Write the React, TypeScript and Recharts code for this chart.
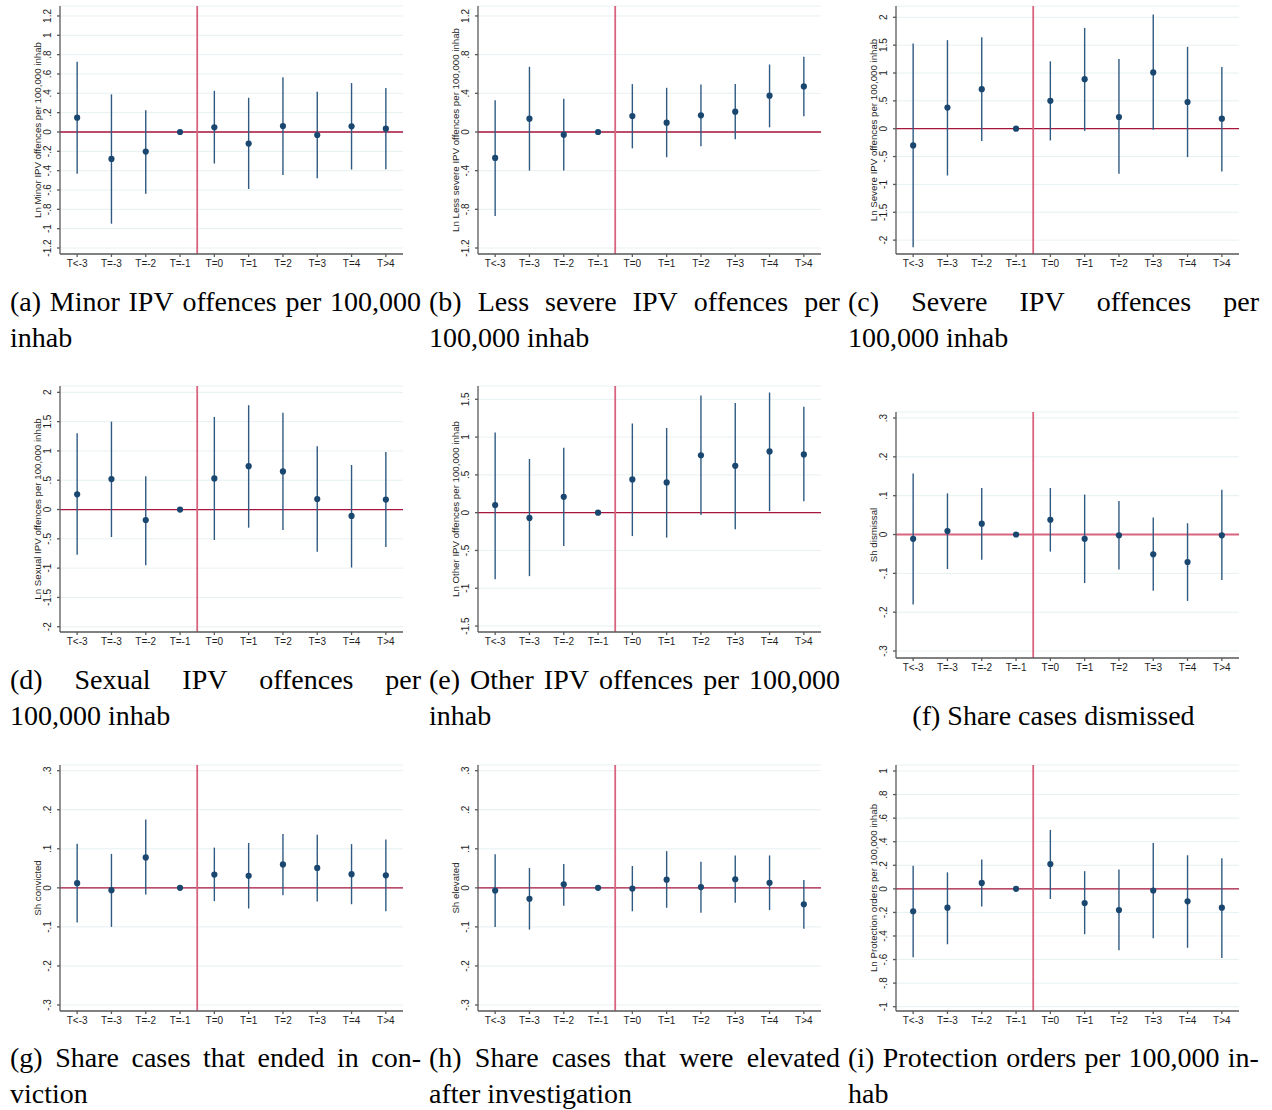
import React from "react";
import {
  CartesianGrid,
  ErrorBar,
  ReferenceLine,
  Scatter,
  ScatterChart,
  XAxis,
  YAxis,
} from "recharts";

const categories = ["T<-3", "T=-3", "T=-2", "T=-1", "T=0", "T=1", "T=2", "T=3", "T=4", "T>4"];

// point estimates with 95% CI bounds
const minorEst = [0.148, -0.279, -0.203, 0, 0.048, -0.12, 0.062, -0.031, 0.058, 0.034];
const minorLo = [-0.433, -0.949, -0.64, 0, -0.327, -0.59, -0.444, -0.478, -0.389, -0.385];
const minorHi = [0.726, 0.389, 0.224, 0, 0.426, 0.354, 0.567, 0.416, 0.506, 0.454];

const lessEst = [-0.268, 0.138, -0.028, 0, 0.165, 0.096, 0.172, 0.21, 0.375, 0.471];
const lessLo = [-0.87, -0.399, -0.399, 0, -0.169, -0.261, -0.148, -0.076, 0.048, 0.162];
const lessHi = [0.327, 0.674, 0.344, 0, 0.495, 0.457, 0.492, 0.495, 0.698, 0.777];

const severeEst = [-0.3, 0.38, 0.71, 0, 0.5, 0.89, 0.21, 1.01, 0.48, 0.18];
const severeLo = [-2.13, -0.84, -0.22, 0, -0.21, -0.04, -0.81, -0.02, -0.51, -0.77];
const severeHi = [1.53, 1.59, 1.64, 0, 1.21, 1.81, 1.25, 2.05, 1.47, 1.11];

const sexualEst = [0.26, 0.52, -0.18, 0, 0.53, 0.74, 0.65, 0.18, -0.11, 0.17];
const sexualLo = [-0.77, -0.47, -0.95, 0, -0.52, -0.31, -0.35, -0.72, -0.99, -0.64];
const sexualHi = [1.3, 1.5, 0.57, 0, 1.58, 1.78, 1.65, 1.08, 0.76, 0.98];

const otherEst = [0.1, -0.07, 0.21, 0, 0.44, 0.4, 0.76, 0.62, 0.81, 0.77];
const otherLo = [-0.88, -0.84, -0.44, 0, -0.31, -0.33, -0.03, -0.22, 0.02, 0.15];
const otherHi = [1.06, 0.71, 0.86, 0, 1.18, 1.12, 1.55, 1.45, 1.59, 1.4];

const dismissEst = [-0.011, 0.009, 0.028, 0, 0.038, -0.011, -0.002, -0.051, -0.071, -0.002];
const dismissLo = [-0.18, -0.089, -0.065, 0, -0.044, -0.125, -0.09, -0.145, -0.171, -0.117];
const dismissHi = [0.157, 0.106, 0.12, 0, 0.12, 0.103, 0.086, 0.044, 0.029, 0.115];

const convictEst = [0.012, -0.006, 0.078, 0, 0.034, 0.031, 0.06, 0.051, 0.035, 0.032];
const convictLo = [-0.089, -0.1, -0.017, 0, -0.034, -0.053, -0.019, -0.035, -0.042, -0.06];
const convictHi = [0.113, 0.087, 0.175, 0, 0.103, 0.115, 0.138, 0.136, 0.112, 0.124];

const elevEst = [-0.007, -0.028, 0.009, 0, -0.002, 0.021, 0.002, 0.022, 0.013, -0.042];
const elevLo = [-0.1, -0.107, -0.046, 0, -0.06, -0.051, -0.064, -0.038, -0.057, -0.105];
const elevHi = [0.086, 0.051, 0.061, 0, 0.056, 0.094, 0.067, 0.083, 0.083, 0.02];

const protEst = [-0.19, -0.16, 0.05, 0, 0.21, -0.12, -0.18, -0.014, -0.106, -0.16];
const protLo = [-0.58, -0.47, -0.15, 0, -0.086, -0.385, -0.52, -0.42, -0.5, -0.586];
const protHi = [0.195, 0.14, 0.25, 0, 0.5, 0.15, 0.164, 0.39, 0.285, 0.26];

const minorTicks = [-1.2, -1, -0.8, -0.6, -0.4, -0.2, 0, 0.2, 0.4, 0.6, 0.8, 1, 1.2];
const lessTicks = [-1.2, -0.8, -0.4, 0, 0.4, 0.8, 1.2];
const halfTicks = [-2, -1.5, -1, -0.5, 0, 0.5, 1, 1.5, 2];
const otherTicks = [-1.5, -1, -0.5, 0, 0.5, 1, 1.5];
const shareTicks = [-0.3, -0.2, -0.1, 0, 0.1, 0.2, 0.3];
const protTicks = [-1, -0.8, -0.6, -0.4, -0.2, 0, 0.2, 0.4, 0.6, 0.8, 1];

const NAVY = "#1a476f";
const CI = "#2f5a82";
const RED = "#a8153c";
const PINK = "#d8647f";
const GRID = "#e7f0f2";
const AXIS = "#5a5a5a";
const SANS = '"Liberation Sans", Arial, sans-serif';
const SERIF = '"Liberation Serif", "Times New Roman", serif';

const COLS = [60, 478, 896];
const CAP_LEFT = [10, 429, 848];

type Panel = {
  id: string;
  yTitle: string;
  est: number[];
  lo: number[];
  hi: number[];
  ticks: number[];
  domain: [number, number];
  col: number;
  plotTop: number;
  plotH: number;
  caption: string[];
  capTop: number;
  softZero?: boolean;
};

const panels: Panel[] = [
  { id: "a", yTitle: "Ln Minor IPV offences per 100,000 inhab", est: minorEst, lo: minorLo, hi: minorHi, ticks: minorTicks, domain: [-1.262, 1.303], col: 0, plotTop: 6, plotH: 248, caption: ["(a) Minor IPV offences per 100,000", "inhab"], capTop: 284 },
  { id: "b", yTitle: "Ln Less severe IPV offences per 100,000 inhab", est: lessEst, lo: lessLo, hi: lessHi, ticks: lessTicks, domain: [-1.262, 1.303], col: 1, plotTop: 6, plotH: 248, caption: ["(b) Less severe IPV offences per", "100,000 inhab"], capTop: 284 },
  { id: "c", yTitle: "Ln Severe IPV offences per 100,000 inhab", est: severeEst, lo: severeLo, hi: severeHi, ticks: halfTicks, domain: [-2.249, 2.203], col: 2, plotTop: 6, plotH: 248, caption: ["(c) Severe IPV offences per", "100,000 inhab"], capTop: 284 },
  { id: "d", yTitle: "Ln Sexual IPV offences per 100,000 inhab", est: sexualEst, lo: sexualLo, hi: sexualHi, ticks: halfTicks, domain: [-2.09, 2.108], col: 0, plotTop: 386, plotH: 246, caption: ["(d) Sexual IPV offences per", "100,000 inhab"], capTop: 662 },
  { id: "e", yTitle: "Ln Other IPV offences per 100,000 inhab", est: otherEst, lo: otherLo, hi: otherHi, ticks: otherTicks, domain: [-1.579, 1.676], col: 1, plotTop: 386, plotH: 246, caption: ["(e) Other IPV offences per 100,000", "inhab"], capTop: 662 },
  { id: "f", yTitle: "Sh dismissal", est: dismissEst, lo: dismissLo, hi: dismissHi, ticks: shareTicks, domain: [-0.318, 0.3155], col: 2, plotTop: 412, plotH: 246, caption: ["(f) Share cases dismissed"], capTop: 698, softZero: true },
  { id: "g", yTitle: "Sh convicted", est: convictEst, lo: convictLo, hi: convictHi, ticks: shareTicks, domain: [-0.3154, 0.3146], col: 0, plotTop: 765, plotH: 246, caption: ["(g) Share cases that ended in con-", "viction"], capTop: 1040 },
  { id: "h", yTitle: "Sh elevated", est: elevEst, lo: elevLo, hi: elevHi, ticks: shareTicks, domain: [-0.3154, 0.3146], col: 1, plotTop: 765, plotH: 246, caption: ["(h) Share cases that were elevated", "after investigation"], capTop: 1040 },
  { id: "i", yTitle: "Ln Protection orders per 100,000 inhab", est: protEst, lo: protLo, hi: protHi, ticks: protTicks, domain: [-1.0365, 1.051], col: 2, plotTop: 765, plotH: 246, caption: ["(i) Protection orders per 100,000 in-", "hab"], capTop: 1040 },
];

function fmt(v: number) {
  if (v === 0) return "0";
  const s = String(Math.round(v * 100) / 100);
  return s.replace(/^0\./, ".").replace(/^-0\./, "-.");
}

function YTick(props: any) {
  const { x, y, payload } = props;
  return (
    <text
      x={x}
      y={y}
      transform={`rotate(-90 ${x} ${y})`}
      textAnchor="middle"
      fontSize={10}
      fontFamily={SANS}
      fill="#1e1e1e"
    >
      {fmt(payload.value)}
    </text>
  );
}

function Dot(props: any) {
  return <circle cx={props.cx} cy={props.cy} r={3.1} fill={NAVY} />;
}

function EventPanel({ p }: { p: Panel }) {
  const rows = categories.map((c, i) => ({
    x: i + 1,
    est: p.est[i],
    err: [p.est[i] - p.lo[i], p.hi[i] - p.est[i]],
  }));
  const axisX = COLS[p.col];
  const top = 4;
  const xH = 24;
  return (
    <div style={{ position: "absolute", left: axisX - 60, top: p.plotTop - top }}>
      <ScatterChart
        width={420}
        height={top + p.plotH + xH}
        margin={{ top, right: 17, left: 0, bottom: 0 }}
      >
        <CartesianGrid vertical={false} stroke={GRID} strokeWidth={1} />
        <XAxis
          type="number"
          dataKey="x"
          domain={[0.5, 10.5]}
          ticks={[1, 2, 3, 4, 5, 6, 7, 8, 9, 10]}
          interval={0}
          allowDataOverflow
          tickFormatter={(v: number) => categories[v - 1]}
          height={xH}
          stroke={AXIS}
          strokeWidth={1.3}
          tickSize={3}
          tickMargin={3}
          tick={{ fontSize: 10, fontFamily: SANS, fill: "#1e1e1e" }}
        />
        <YAxis
          type="number"
          dataKey="est"
          domain={p.domain}
          ticks={p.ticks}
          interval={0}
          allowDataOverflow
          width={60}
          stroke={AXIS}
          strokeWidth={1.3}
          tickSize={3}
          tickMargin={6}
          tick={<YTick />}
          label={{
            value: p.yTitle,
            content: (lp: any) => {
              const vb = lp.viewBox || {};
              const cx = (vb.x ?? 0) + (vb.width ?? 60) - 19.5;
              const cy = (vb.y ?? 0) + (vb.height ?? 0) / 2;
              return (
                <text
                  x={cx}
                  y={cy}
                  transform={`rotate(-90 ${cx} ${cy})`}
                  textAnchor="middle"
                  fontSize={9.7}
                  fontFamily={SANS}
                  fill="#1e1e1e"
                >
                  {p.yTitle}
                </text>
              );
            },
          }}
        />
        <ReferenceLine
          y={0}
          stroke={p.softZero ? PINK : RED}
          strokeWidth={p.softZero ? 2.2 : 1.3}
        />
        <ReferenceLine x={4.5} stroke={PINK} strokeWidth={1.8} />
        <Scatter data={rows} shape={<Dot />} isAnimationActive={false}>
          <ErrorBar
            dataKey="err"
            direction="y"
            width={0}
            stroke={CI}
            strokeWidth={1.4}
            isAnimationActive={false}
          />
        </Scatter>
      </ScatterChart>
    </div>
  );
}

function Caption({ p }: { p: Panel }) {
  const left = CAP_LEFT[p.col];
  const single = p.caption.length === 1;
  return (
    <div
      style={{
        position: "absolute",
        left,
        top: p.capTop,
        width: 411,
        fontFamily: SERIF,
        fontSize: 28,
        lineHeight: "36px",
        color: "#000",
      }}
    >
      {single ? (
        <div style={{ textAlign: "center", whiteSpace: "nowrap" }}>{p.caption[0]}</div>
      ) : (
        <>
          <div style={{ display: "flex", justifyContent: "space-between", whiteSpace: "nowrap" }}>
            {p.caption[0].split(" ").map((w, i) => (
              <span key={i}>{w}</span>
            ))}
          </div>
          <div style={{ whiteSpace: "nowrap" }}>{p.caption[1]}</div>
        </>
      )}
    </div>
  );
}

export default function App() {
  return (
    <div
      style={{
        position: "absolute",
        left: 0,
        top: 0,
        width: 1272,
        height: 1110,
        background: "#fff",
        overflow: "hidden",
      }}
    >
      {panels.map((p) => (
        <EventPanel key={p.id} p={p} />
      ))}
      {panels.map((p) => (
        <Caption key={"c" + p.id} p={p} />
      ))}
    </div>
  );
}
